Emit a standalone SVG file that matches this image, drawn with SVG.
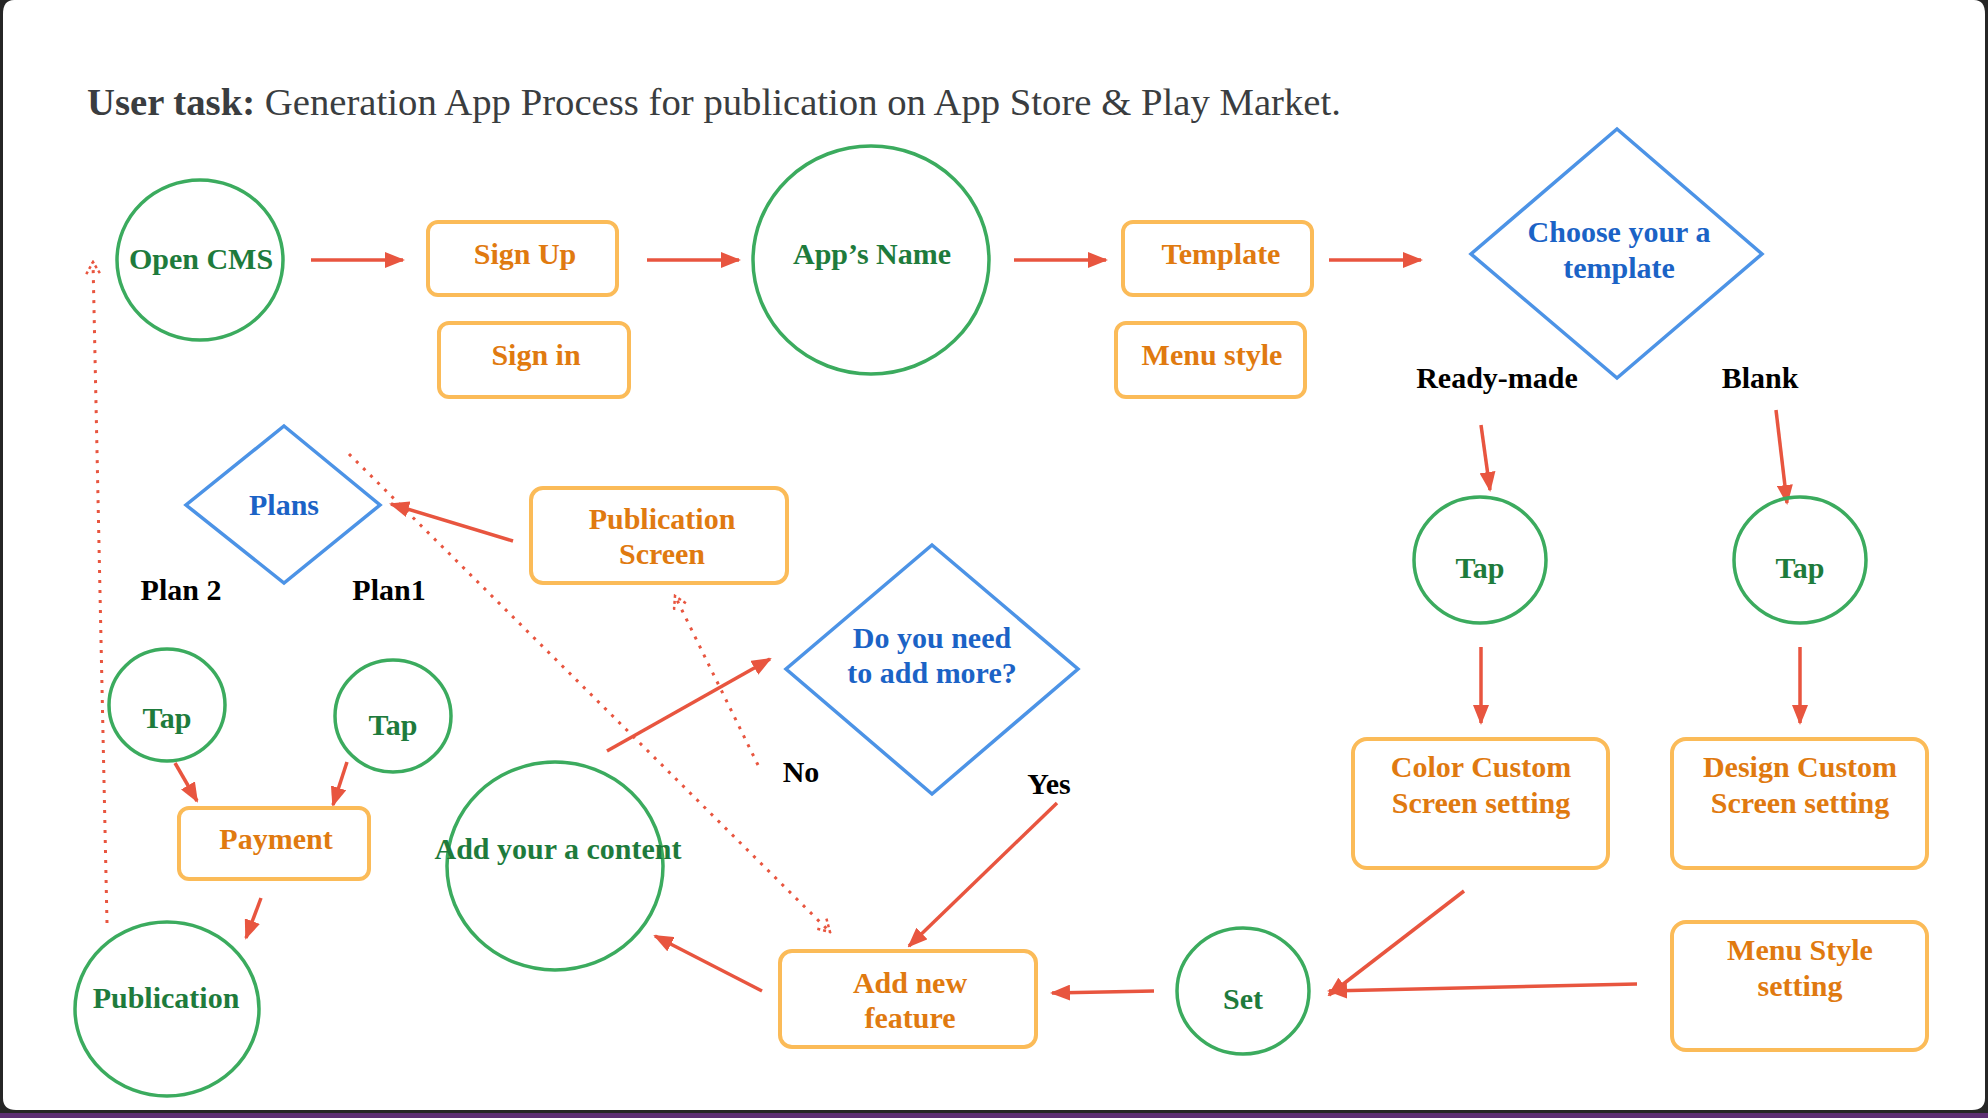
<svg xmlns="http://www.w3.org/2000/svg" width="1988" height="1118" viewBox="0 0 1988 1118">
<defs>
<marker id="ah" viewBox="0 0 20 16" refX="18" refY="8" markerWidth="20" markerHeight="16" markerUnits="userSpaceOnUse" orient="auto">
<path d="M0,0 L20,8 L0,16 Z" fill="#e8553f"/>
</marker>
<marker id="dh" viewBox="0 0 16 16" refX="14" refY="8" markerWidth="16" markerHeight="16" markerUnits="userSpaceOnUse" orient="auto">
<path d="M2,1 L14,8 L2,15" fill="none" stroke="#e8553f" stroke-width="2.5" stroke-dasharray="3 3"/>
</marker>
<style>
.c{fill:none;stroke:#3bab5e;stroke-width:3.5}
.b{fill:#fff;stroke:#fbbb58;stroke-width:4}
.d{fill:none;stroke:#4c93e6;stroke-width:3.5}
.a{fill:none;stroke:#e8553f;stroke-width:3.5;marker-end:url(#ah)}
.dot{fill:none;stroke:#e8553f;stroke-width:3;stroke-dasharray:3 7;marker-end:url(#dh)}
text{font-family:"Liberation Serif","Times New Roman",serif;font-weight:bold;font-size:30px;text-anchor:middle}
.tg{fill:#1e7b3c}
.to{fill:#e07a10}
.tb{fill:#1b63c6}
.tk{fill:#000}
</style>
</defs>
<rect x="0" y="0" width="1988" height="1118" fill="#262626"/>
<rect x="0" y="1113" width="1988" height="5" fill="#5d2e73"/>
<path d="M14,0 H1974 Q1985,0 1985,14 V1098 Q1985,1110 1972,1110 H16 Q3,1110 3,1098 V14 Q3,0 14,0 Z" fill="#fff"/>
<text x="87" y="115" textLength="1254" lengthAdjust="spacingAndGlyphs" style="text-anchor:start;font-weight:normal;font-size:37px;fill:#3a3d40"><tspan font-weight="bold">User task:</tspan> Generation App Process for publication on App Store &amp; Play Market.</text>

<g id="connectors">
<line class="a" x1="311" y1="260" x2="403" y2="260"/>
<line class="a" x1="647" y1="260" x2="739" y2="260"/>
<line class="a" x1="1014" y1="260" x2="1106" y2="260"/>
<line class="a" x1="1329" y1="260" x2="1421" y2="260"/>
<line class="a" x1="1481" y1="425" x2="1490" y2="490"/>
<line class="a" x1="1776" y1="410" x2="1787" y2="503"/>
<line class="a" x1="1481" y1="647" x2="1481" y2="723"/>
<line class="a" x1="1800" y1="647" x2="1800" y2="723"/>
<line class="a" x1="1464" y1="891" x2="1329" y2="995"/>
<line class="a" x1="1637" y1="984" x2="1329" y2="991"/>
<line class="a" x1="1154" y1="991" x2="1052" y2="993"/>
<line class="a" x1="1057" y1="803" x2="909" y2="946"/>
<line class="a" x1="762" y1="991" x2="655" y2="936"/>
<line class="a" x1="607" y1="751" x2="770" y2="659"/>
<line class="a" x1="513" y1="541" x2="391" y2="504"/>
<line class="a" x1="175" y1="763" x2="197" y2="801"/>
<line class="a" x1="347" y1="762" x2="333" y2="805"/>
<line class="a" x1="261" y1="898" x2="246" y2="938"/>
<line class="dot" x1="758" y1="765" x2="675" y2="596"/>
<line class="dot" x1="349" y1="454" x2="830" y2="932"/>
<line class="dot" x1="107" y1="923" x2="93" y2="262"/>
</g>

<g id="open-cms"><ellipse class="c" cx="200" cy="260" rx="83" ry="80"/><text class="tg" x="201" y="269">Open CMS</text></g>
<g id="sign-up"><rect class="b" x="428" y="222" width="189" height="73" rx="10"/><text class="to" x="525" y="264">Sign Up</text></g>
<g id="sign-in"><rect class="b" x="439" y="323" width="190" height="74" rx="10"/><text class="to" x="536" y="365">Sign in</text></g>
<g id="app-name"><ellipse class="c" cx="871" cy="260" rx="118" ry="114"/><text class="tg" x="872" y="264">App’s Name</text></g>
<g id="template"><rect class="b" x="1123" y="222" width="189" height="73" rx="10"/><text class="to" x="1221" y="264">Template</text></g>
<g id="menu-style"><rect class="b" x="1116" y="323" width="189" height="74" rx="10"/><text class="to" x="1212" y="365">Menu style</text></g>
<g id="choose-template"><polygon class="d" points="1617,129 1762,254 1617,378 1471,254"/><text class="tb" x="1619" y="242">Choose your a</text><text class="tb" x="1619" y="278">template</text></g>
<g id="label-ready"><text class="tk" x="1497" y="388">Ready-made</text></g>
<g id="label-blank"><text class="tk" x="1760" y="388">Blank</text></g>
<g id="tap-ready"><ellipse class="c" cx="1480" cy="560" rx="66" ry="63"/><text class="tg" x="1480" y="578">Tap</text></g>
<g id="tap-blank"><ellipse class="c" cx="1800" cy="560" rx="66" ry="63"/><text class="tg" x="1800" y="578">Tap</text></g>
<g id="color-custom"><rect class="b" x="1353" y="739" width="255" height="129" rx="14"/><text class="to" x="1481" y="777">Color Custom</text><text class="to" x="1481" y="813">Screen setting</text></g>
<g id="design-custom"><rect class="b" x="1672" y="739" width="255" height="129" rx="14"/><text class="to" x="1800" y="777">Design Custom</text><text class="to" x="1800" y="813">Screen setting</text></g>
<g id="menu-style-setting"><rect class="b" x="1672" y="922" width="255" height="128" rx="14"/><text class="to" x="1800" y="960">Menu Style</text><text class="to" x="1800" y="996">setting</text></g>
<g id="set"><ellipse class="c" cx="1243" cy="991" rx="66" ry="63"/><text class="tg" x="1243" y="1009">Set</text></g>
<g id="add-feature"><rect class="b" x="780" y="951" width="256" height="96" rx="12"/><text class="to" x="910" y="993">Add new</text><text class="to" x="910" y="1028">feature</text></g>
<g id="label-yes"><text class="tk" x="1049" y="794">Yes</text></g>
<g id="label-no"><text class="tk" x="801" y="782">No</text></g>
<g id="need-more"><polygon class="d" points="932,545 1078,669 932,794 786,669"/><text class="tb" x="932" y="648">Do you need</text><text class="tb" x="932" y="683">to add more?</text></g>
<g id="publication-screen"><rect class="b" x="531" y="488" width="256" height="95" rx="12"/><text class="to" x="662" y="529">Publication</text><text class="to" x="662" y="564">Screen</text></g>
<g id="plans"><polygon class="d" points="284,426 380,505 284,583 186,505"/><text class="tb" x="284" y="515">Plans</text></g>
<g id="label-plan2"><text class="tk" x="181" y="600">Plan 2</text></g>
<g id="label-plan1"><text class="tk" x="389" y="600">Plan1</text></g>
<g id="tap-plan2"><ellipse class="c" cx="167" cy="705" rx="58" ry="56"/><text class="tg" x="167" y="728">Tap</text></g>
<g id="tap-plan1"><ellipse class="c" cx="393" cy="716" rx="58" ry="56"/><text class="tg" x="393" y="735">Tap</text></g>
<g id="payment"><rect class="b" x="179" y="808" width="190" height="71" rx="10"/><text class="to" x="276" y="849">Payment</text></g>
<g id="publication"><ellipse class="c" cx="167" cy="1009" rx="92" ry="87"/><text class="tg" x="166" y="1008">Publication</text></g>
<g id="add-content"><ellipse class="c" cx="555" cy="866" rx="108" ry="104"/><text class="tg" x="558" y="859">Add your a content</text></g>
</svg>
